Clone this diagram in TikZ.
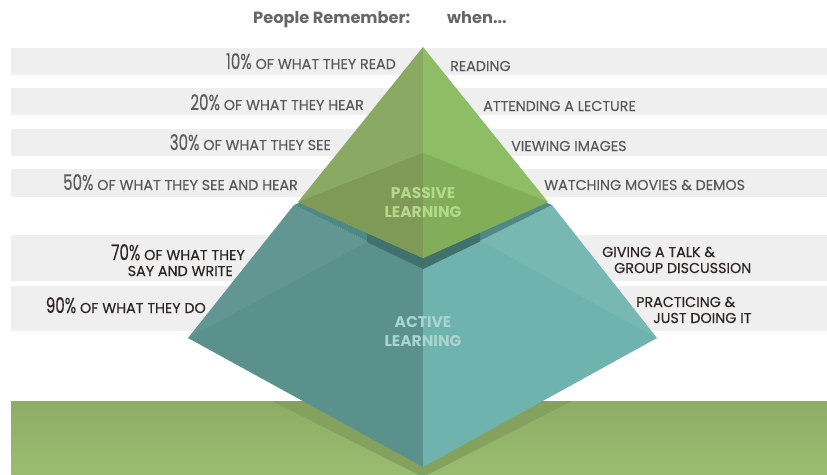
\documentclass[tikz,border=0pt]{standalone}
\usepackage{fontspec}
\setmainfont{Poppins}
\usepackage{tikz}
\usetikzlibrary{positioning}

\definecolor{barbg}{HTML}{EFEFEF}
\definecolor{txtgray}{HTML}{5B5B5B}
\definecolor{txtdark}{HTML}{2D2623}
\definecolor{titlegray}{HTML}{666666}
\definecolor{greenL}{HTML}{8AA963}
\definecolor{greenR}{HTML}{8DBD65}
\definecolor{greenLd}{HTML}{7F9A56}
\definecolor{greenRd}{HTML}{82AE59}
\definecolor{tealL}{HTML}{5A918D}
\definecolor{tealR}{HTML}{6EB3AD}
\definecolor{tealTop}{HTML}{4F8985}
\definecolor{tealDeep}{HTML}{40716C}
\definecolor{groundTop}{HTML}{8EAC66}
\definecolor{groundBot}{HTML}{99BD70}
\definecolor{groundShade}{HTML}{84A25D}
\definecolor{passiveTxt}{HTML}{B4D98B}
\definecolor{activeTxt}{HTML}{A9D5D0}

\newcommand{\bignum}[1]{\scalebox{0.7}[1]{\fontsize{21.5}{21}\selectfont #1\%}}

\begin{document}
\begin{tikzpicture}[x=1pt,y=-1pt,
		lbl/.style={font=\fontsize{14.3}{15}\selectfont\addfontfeature{FakeBold=0.3},text=txtgray,inner sep=0pt},
		lbldark/.style={lbl,text=txtdark},
		bar/.style={fill=barbg,draw=none}]
		\tikzstyle{layer}=[font=\bfseries\fontsize{15.5}{19}\selectfont,inner sep=0pt,align=center]
		
		\useasboundingbox (0,0) rectangle (827,474);
		
		% rows behind the pyramid
		\fill[bar] (11,48) rectangle (827,75);
		\fill[bar] (11,88) rectangle (827,115);
		\fill[bar] (11,129) rectangle (827,156);
		\fill[bar] (11,169) rectangle (827,197);
		\fill[bar] (11,235) rectangle (827,281);
		\fill[bar] (11,286) rectangle (827,331);
		
		% ground
		\shade[top color=groundTop,bottom color=groundBot] (11,401) rectangle (827,474);
		\begin{scope}
			\clip (11,401) rectangle (827,474);
			\fill[groundShade] (272,401) -- (423,477) -- (572,401) -- cycle;
		\end{scope}
		
		\coordinate (apex) at (423,47);
		\coordinate (pl) at (298,202);
		\coordinate (pr) at (548,202);
		\coordinate (pb) at (423,153);
		\coordinate (pf) at (423,258);
		\coordinate (tl) at (294,205);
		\coordinate (tr) at (552,205);
		\coordinate (tf) at (423,269);
		\coordinate (bl) at (188,338);
		\coordinate (br) at (657,338);
		\coordinate (bot) at (423,467);
		
		% active part
		\fill[tealL] (tl) -- (tf) -- (bot) -- (bl) -- cycle;
		\fill[tealR] (tf) -- (tr) -- (br) -- (bot) -- cycle;
		\fill[white,opacity=0.05] (bl) -- (tl) -- (367,242) -- cycle;
		\fill[white,opacity=0.07] (br) -- (tr) -- (481,241) -- cycle;
		\fill[tealTop] (tl) -- (pb) -- (tr) -- (tf) -- cycle;
		\fill[tealDeep] (367,233) -- (pf) -- (480,232.5) -- (480,241.5) -- (tf) -- (367,242) -- cycle;
		
		% passive part
		\fill[greenL] (apex) -- (pl) -- (pf) -- cycle;
		\fill[greenR] (apex) -- (pf) -- (pr) -- cycle;
		\fill[greenLd] (pl) -- (pb) -- (pf) -- cycle;
		\fill[greenRd] (pb) -- (pr) -- (pf) -- cycle;
		
		\node[layer,text=passiveTxt] (passive) at (423,203) {PASSIVE\\LEARNING};
		\node[layer,text=activeTxt] (active) at (423,332) {ACTIVE\\LEARNING};
		
		% headings
		\node[font=\bfseries\fontsize{16.2}{16}\selectfont,text=titlegray,anchor=base west,inner sep=0pt] (remember) at (253,23) {People Remember:};
		\node[font=\bfseries\fontsize{16.2}{16}\selectfont,text=titlegray,anchor=base west,inner sep=0pt] (when) at (447,23) {when...};
		
		% what people remember
		\node[lbl,anchor=base east] (r1) at (396,69) {\bignum{10} OF WHAT THEY READ};
		\node[lbl,anchor=base east] (r2) at (364,110) {\bignum{20} OF WHAT THEY HEAR};
		\node[lbl,anchor=base east] (r3) at (331,150) {\bignum{30} OF WHAT THEY SEE};
		\node[lbl,anchor=base east] (r4) at (298,190) {\bignum{50} OF WHAT THEY SEE AND HEAR};
		\node[lbldark,anchor=base east] (r5) at (245,260) {\bignum{70} OF WHAT THEY};
		\node[lbldark,anchor=base east] (r5b) at (233,276) {SAY AND WRITE};
		\node[lbldark,anchor=base east] (r6) at (206,313) {\bignum{90} OF WHAT THEY DO};
		
		% when
		\node[lbl,anchor=base west] (w1) at (450,71) {READING};
		\node[lbl,anchor=base west] (w2) at (483,111) {ATTENDING A LECTURE};
		\node[lbl,anchor=base west] (w3) at (511,151) {VIEWING IMAGES};
		\node[lbl,anchor=base west] (w4) at (544,190) {WATCHING MOVIES \& DEMOS};
		\node[lbldark,anchor=base west] (w5) at (602,257) {GIVING A TALK \&};
		\node[lbldark,anchor=base west] (w5b) at (614,273) {GROUP DISCUSSION};
		\node[lbldark,anchor=base west] (w6) at (636,307) {PRACTICING \&};
		\node[lbldark,anchor=base west] (w6b) at (653,323) {JUST DOING IT};
\end{tikzpicture}
\end{document}
